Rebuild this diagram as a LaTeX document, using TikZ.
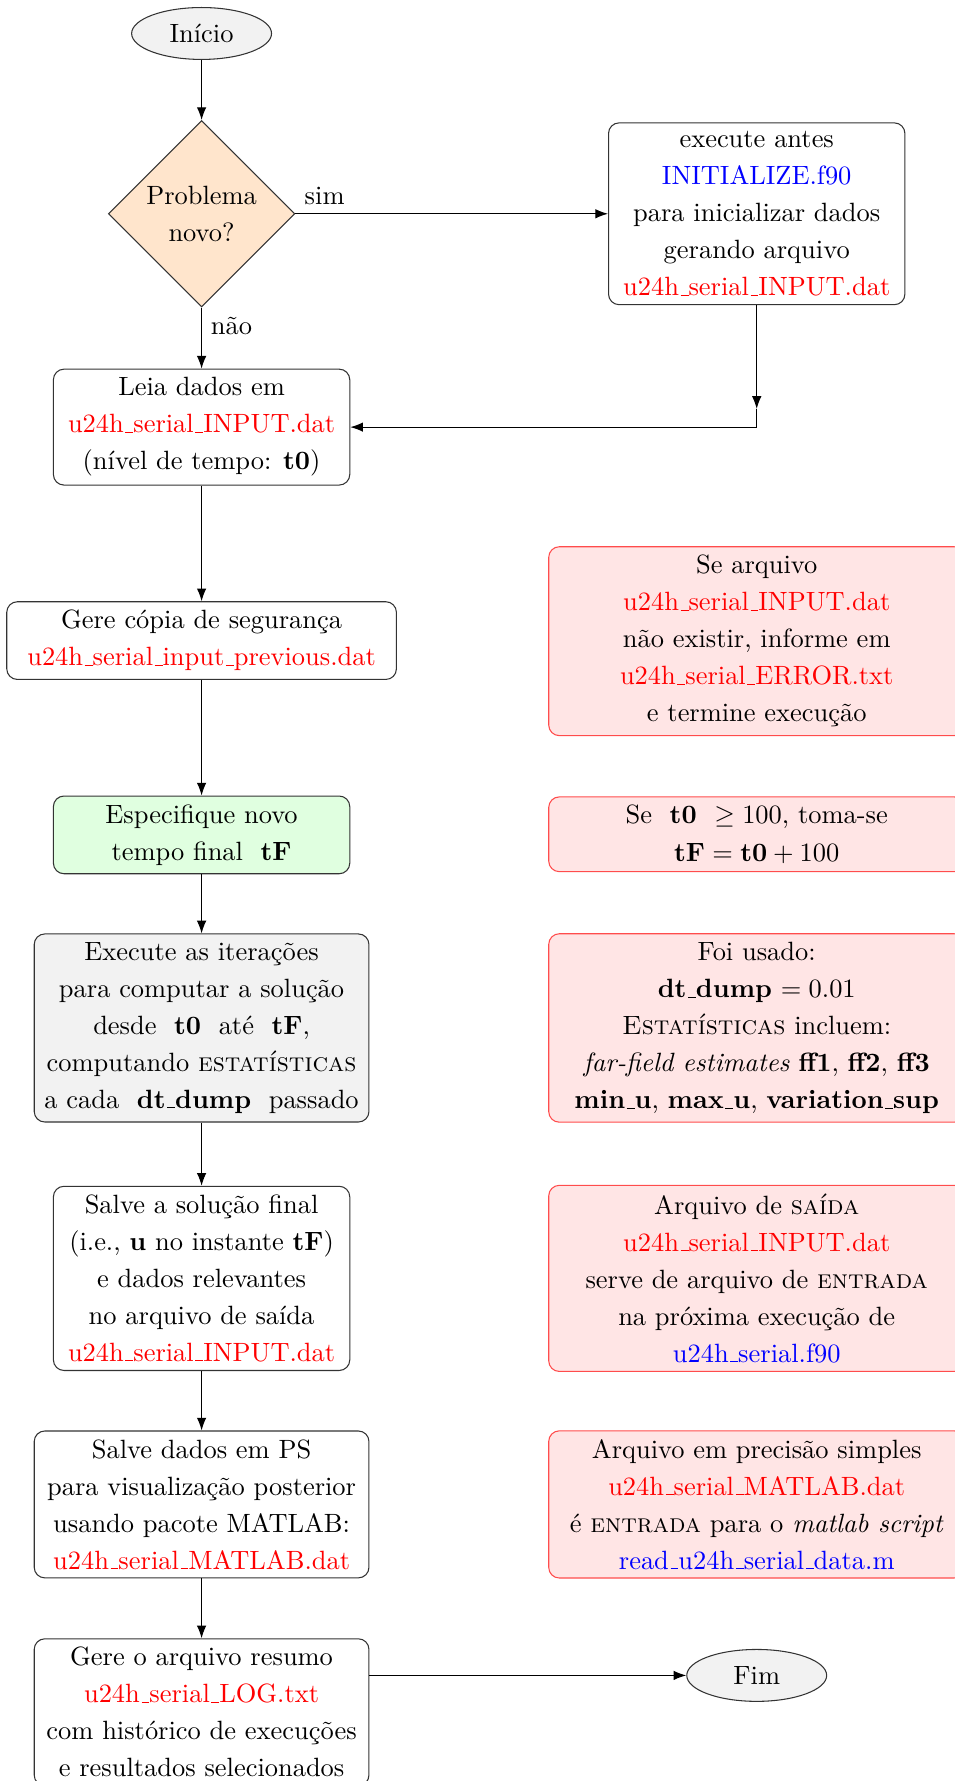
\documentclass[tikz,border=0pt]{standalone}
\usepackage{amsmath}
\usepackage{tikz}
\usetikzlibrary{arrows.meta,positioning,shapes.geometric}
\renewcommand{\_}{\leavevmode\kern.06em\vbox{\hrule width.3em}}
\newcommand{\fnred}[1]{\textcolor{red}{#1}}
\newcommand{\fnblue}[1]{\textcolor{blue}{#1}}

\begin{document}
\begin{tikzpicture}[>=Latex,
  txt/.style={font=\fontsize{10}{14}\selectfont},
  term/.style={txt,draw=black!80,ellipse,fill=gray!10,minimum width=1.86cm,minimum height=0.69cm,inner sep=1pt},
  decis/.style={txt,draw=black!80,diamond,fill=orange!20,minimum size=2.48cm,inner sep=0pt,align=center},
  proc/.style={txt,draw=black!80,rounded corners,align=center,inner xsep=2pt,inner ysep=3.2pt},
  note/.style={proc,draw=red!70,fill=red!10,minimum width=5.53cm},
  wa/.style={minimum width=3.94cm},
  wb/.style={minimum width=4.45cm},
  wc/.style={minimum width=5.18cm}]
\useasboundingbox (0,0) rectangle (12.684,-23.677);
\node[term] (inicio) at (2.68,-0.445) {Início};
\node[decis] (novo) at (2.68,-2.842) {Problema\\novo?};
\node[proc,wa] (init) at (10.06,-2.842) {execute antes\\\fnblue{INITIALIZE.f90}\\para inicializar dados\\gerando arquivo\\\fnred{u24h\_serial\_INPUT.dat}};
\node[proc,wa] (leia) at (2.68,-5.678) {Leia dados em\\\fnred{u24h\_serial\_INPUT.dat}\\(nível de tempo: \textbf{t0})};
\coordinate (c1) at (10.06,-5.436);
\node[proc,wc] (copia) at (2.68,-8.516) {Gere cópia de segurança\\\fnred{u24h\_serial\_input\_previous.dat}};
\node[note] (semarq) at (10.06,-8.524) {Se arquivo\\\fnred{u24h\_serial\_INPUT.dat}\\não existir, informe em\\\fnred{u24h\_serial\_ERROR.txt}\\e termine execução};
\node[proc,wa,fill=green!12] (tfinal) at (2.68,-11.099) {Especifique novo\\tempo final \ \textbf{tF}};
\node[note] (regra) at (10.06,-11.091) {Se \ \textbf{t0} \ $\geq 100$, toma-se\\$\mathbf{tF} = \mathbf{t0} + 100$};
\node[proc,wb,fill=gray!10] (iter) at (2.68,-13.666) {Execute as iterações\\para computar a solução\\desde \ \textbf{t0} \ até \ \textbf{tF},\\computando \textsc{estatísticas}\\a cada \ \textbf{dt\_dump} \ passado};
\node[note] (usado) at (10.06,-13.666) {Foi usado:\\\textbf{dt\_dump} $= 0.01$\\\textsc{Estatísticas} incluem:\\\textit{far-field estimates} \textbf{ff1}, \textbf{ff2}, \textbf{ff3}\\\textbf{min\_u}, \textbf{max\_u}, \textbf{variation\_sup}};
\node[proc,wa] (salve) at (2.68,-16.995) {Salve a solução final\\(i.e., \textbf{u} no instante \textbf{tF})\\e dados relevantes\\no arquivo de saída\\\fnred{u24h\_serial\_INPUT.dat}};
\node[note] (saida) at (10.06,-16.995) {Arquivo de \textsc{saída}\\\fnred{u24h\_serial\_INPUT.dat}\\serve de arquivo de \textsc{entrada}\\na próxima execução de\\\fnblue{u24h\_serial.f90}};
\node[proc,wb] (matlab) at (2.68,-20.0) {Salve dados em PS\\para visualização posterior\\usando pacote MATLAB:\\\fnred{u24h\_serial\_MATLAB.dat}};
\node[note] (simples) at (10.06,-20.0) {Arquivo em precisão simples\\\fnred{u24h\_serial\_MATLAB.dat}\\é \textsc{entrada} para o \textit{matlab script}\\\fnblue{read\_u24h\_serial\_data.m}};
\node[proc,wb] (resumo) at (2.68,-22.763) {Gere o arquivo resumo\\\fnred{u24h\_serial\_LOG.txt}\\com histórico de execuções\\e resultados selecionados};
\node[term] (fim) at (10.06,-22.273) {Fim};
% conexoes
\draw[->] (inicio)--(novo);
\draw[->] (novo.east)--node[pos=0,above right]{sim}(init.west);
\draw[->] (novo.south)--node[pos=0,below right]{não}(leia.north);
\draw[->] (init.south)--(c1);
\draw[->] (c1)|-(leia.east);
\draw[->] (leia)--(copia);
\draw[->] (copia)--(tfinal);
\draw[->] (tfinal)--(iter);
\draw[->] (iter)--(salve);
\draw[->] (salve)--(matlab);
\draw[->] (matlab)--(resumo);
\draw[->] (resumo.east |- fim)--(fim);
\end{tikzpicture}
\end{document}
